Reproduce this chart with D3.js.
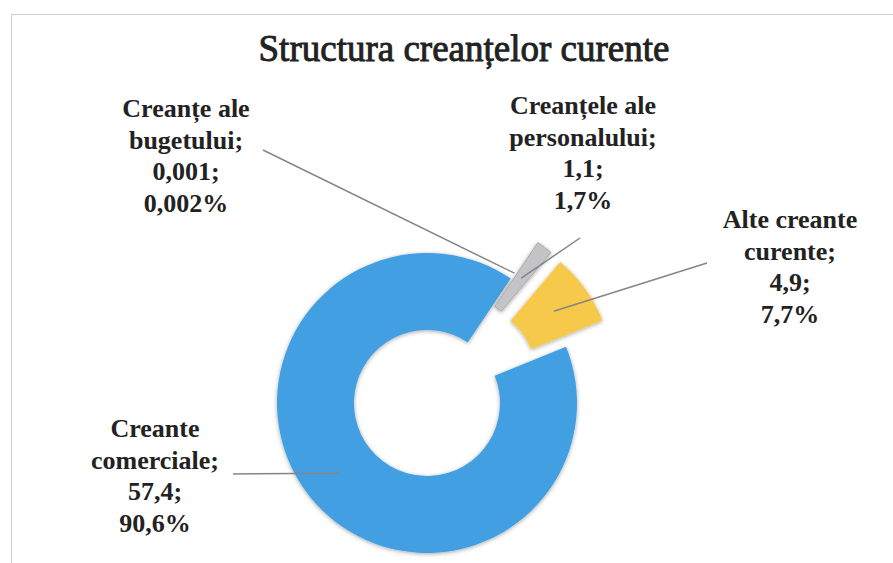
<html>
<head>
<meta charset="utf-8">
<script src="https://d3js.org/d3.v7.min.js"></script>
<style>
  body { margin: 0; background: #fff; }
  text { font-family: "Liberation Serif", serif; fill: #222; }
</style>
</head>
<body>
<div id="chart"></div>
<script>
// chart data
const categories = ["Creante comerciale", "Creanțe ale bugetului", "Creanțele ale personalului", "Alte creante curente"];
const values = [57.4, 0.001, 1.1, 4.9];
const valueLabels = ["57,4", "0,001", "1,1", "4,9"];
const percentLabels = ["90,6%", "0,002%", "1,7%", "7,7%"];
const labelLines = [
  ["Creante", "comerciale;"],
  ["Creanțe ale", "bugetului;"],
  ["Creanțele ale", "personalului;"],
  ["Alte creante", "curente;"]
];
const colors = ["#439fe2", "#c9c9cb", "#c4c4c6", "#f6c94c"];

const width = 893, height = 563;
const svg = d3.select('#chart').append('svg')
  .attr('width', width)
  .attr('height', height);

// frame
svg.append('rect')
  .attr('x', 11.5).attr('y', 14.5)
  .attr('width', 900).attr('height', 600)
  .attr('fill', 'none')
  .attr('stroke', '#cfcfcf')
  .attr('stroke-width', 1);

svg.append('text')
  .attr('x', 464).attr('y', 61)
  .attr('text-anchor', 'middle')
  .style('font-size', '37px')
  .style('stroke', '#222')
  .style('stroke-width', 0.9)
  .text('Structura creanțelor curente');

const defs = svg.append('defs');
const f = defs.append('filter').attr('id', 'shadow')
  .attr('x', '-20%').attr('y', '-20%').attr('width', '140%').attr('height', '140%');
f.append('feGaussianBlur').attr('in', 'SourceAlpha').attr('stdDeviation', 2).attr('result', 'b');
f.append('feOffset').attr('in', 'b').attr('dx', 0).attr('dy', 1).attr('result', 'o');
f.append('feComponentTransfer').attr('in', 'o').attr('result', 's')
  .append('feFuncA').attr('type', 'linear').attr('slope', 0.35);
const m = f.append('feMerge');
m.append('feMergeNode').attr('in', 's');
m.append('feMergeNode').attr('in', 'SourceGraphic');

const cx = 427, cy = 403;
const outerR = 150, innerR = 73, explode = 45;
const rot = 68 * Math.PI / 180;

const pie = d3.pie().sort(null).value(d => d)
  .startAngle(rot).endAngle(rot + 2 * Math.PI);
const arcs = pie(values);
const arc = d3.arc().innerRadius(innerR).outerRadius(outerR);

// every slice except the big one is pulled out
const offset = (d, i) => {
  const a = (d.startAngle + d.endAngle) / 2;
  const e = i === 0 ? 0 : explode;
  return [Math.sin(a) * e, -Math.cos(a) * e];
};

const g = svg.append('g').attr('transform', `translate(${cx},${cy})`);

g.selectAll('path.slice')
  .data(arcs)
  .enter().append('path')
    .attr('class', 'slice')
    .attr('d', arc)
    .attr('transform', (d, i) => `translate(${offset(d, i)})`)
    .attr('fill', (d, i) => colors[i])
    .attr('stroke', (d, i) => i === 2 ? '#aaaaae' : 'none')
    .attr('stroke-width', 1)
    .attr('filter', 'url(#shadow)');

// label anchors (line start) and text centres
const labelPos = [
  { x: 155, y: 428, lx: 233, ly: 474 },
  { x: 186, y: 108, lx: 263, ly: 150 },
  { x: 583, y: 105, lx: 580, ly: 238 },
  { x: 790, y: 219, lx: 707, ly: 263 }
];

g.selectAll('line.leader')
  .data(arcs)
  .enter().append('line')
    .attr('class', 'leader')
    .attr('x1', (d, i) => labelPos[i].lx - cx)
    .attr('y1', (d, i) => labelPos[i].ly - cy)
    .attr('x2', (d, i) => arc.centroid(d)[0] + offset(d, i)[0])
    .attr('y2', (d, i) => arc.centroid(d)[1] + offset(d, i)[1])
    .attr('stroke', '#858585')
    .attr('stroke-width', 1.5);

const labels = svg.selectAll('text.lbl')
  .data(arcs)
  .enter().append('text')
    .attr('class', 'lbl')
    .attr('text-anchor', 'middle')
    .attr('x', (d, i) => labelPos[i].x)
    .attr('y', (d, i) => labelPos[i].y + 9)
    .style('font-size', '26px')
    .style('font-weight', 'bold');

labels.each(function(d, i) {
  const lines = labelLines[i].concat([valueLabels[i] + ';', percentLabels[i]]);
  d3.select(this).selectAll('tspan')
    .data(lines)
    .enter().append('tspan')
      .attr('x', labelPos[i].x)
      .attr('dy', (t, j) => j === 0 ? 0 : 31.5)
      .text(t => t);
});
</script>
</body>
</html>
